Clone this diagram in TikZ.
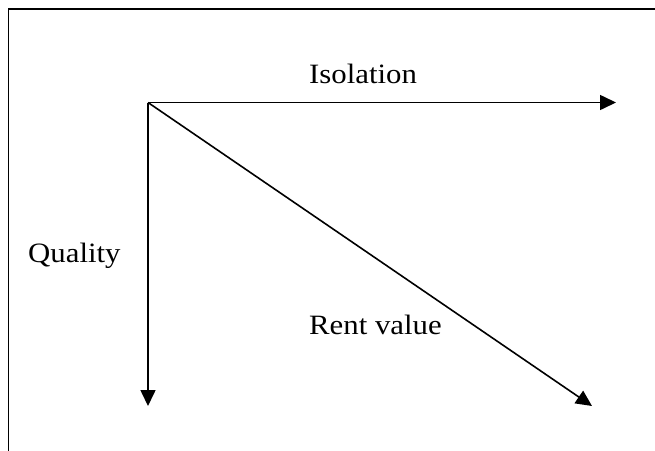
\documentclass[tikz,border=0pt]{standalone}
\usepackage{fontspec}
\setmainfont{Liberation Serif}
\usetikzlibrary{arrows.meta}
\tikzset{
  axis/.style={line width=1.6pt, -{Triangle[length=16pt,width=15pt]}},
  frameline/.style={line width=1.5pt},
  lbl/.style={anchor=base west, inner sep=0pt, font=\fontsize{28}{30}\selectfont}
}
\newcommand{\wide}[1]{\scalebox{1.1}[1]{#1}}
\begin{document}
\begin{tikzpicture}[x=1pt,y=-1pt]
\useasboundingbox (0,0) rectangle (655,450);
\coordinate (fTL) at (8.5,9);
\coordinate (fTR) at (660,9);
\coordinate (fBL) at (8.5,455);
\draw[frameline] (fBL) -- (fTL) -- (fTR);
\coordinate (O) at (148,102.5);
\coordinate (iso) at (616,102.5);
\coordinate (qual) at (148,406);
\coordinate (rent) at (592,406);
\draw[axis] (O) -- (iso);
\draw[axis] (O) -- (qual);
\draw[axis] (O) -- (rent);
\node[lbl] (tiso) at (309,83) {\wide{Isolation}};
\node[lbl] (tqual) at (28,262) {\wide{Quality}};
\node[lbl] (trent) at (309,334) {\wide{Rent value}};
\end{tikzpicture}
\end{document}
